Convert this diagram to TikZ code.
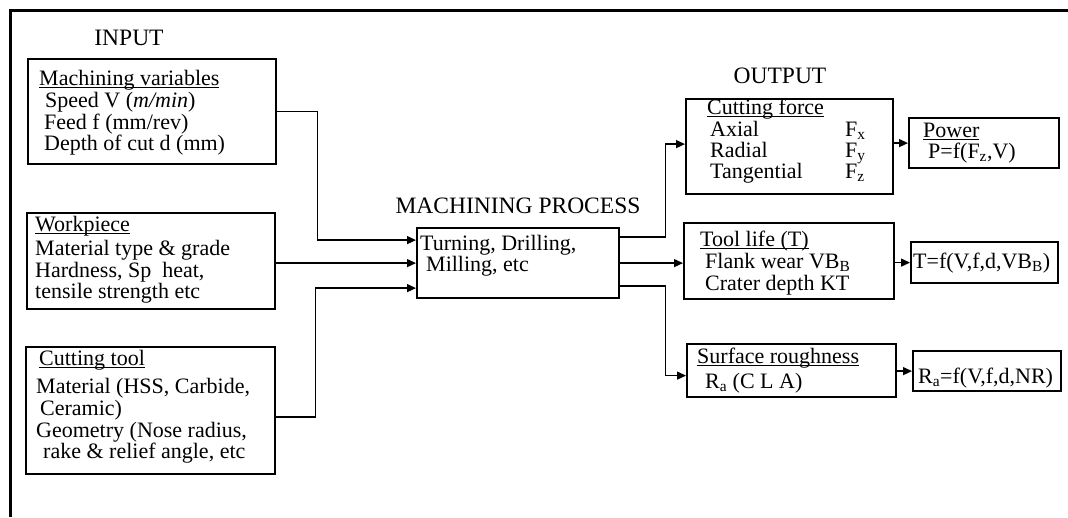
\documentclass[tikz,border=0pt]{standalone}
\usepackage{fontspec}
\setmainfont{Liberation Serif}
\usetikzlibrary{arrows.meta}
\newcommand{\myul}[1]{\setbox0\hbox{#1}\rlap{\rule[-3pt]{\wd0}{1.1pt}}\box0}
\begin{document}
\begin{tikzpicture}[x=1pt,y=-1pt,
  box/.style={draw,line width=2.2pt,anchor=north west,inner sep=0pt},
  txt/.style={anchor=base west,inner sep=0pt,font=\fontsize{22}{24}\selectfont},
  ttl/.style={anchor=base,inner sep=0pt,font=\fontsize{23.5}{26}\selectfont},
  conn/.style={line width=1.3pt},
  arr/.style={conn,-{Triangle[length=9pt,width=8pt]}},
  frame/.style={line width=3pt}
]
\useasboundingbox (0,0) rectangle (1068,517);
\draw[frame] (1068,10) -- (10,10) -- (10,517);

% titles
\node[ttl] (tin) at (129,45) {INPUT};
\node[ttl] (tproc) at (518,213) {MACHINING PROCESS};
\node[ttl] (tout) at (780,83) {OUTPUT};

% input boxes
\node[box,minimum width=248pt,minimum height=105pt] (mv) at (27,58) {};
\node[txt] (mv1) at (39,85) {\myul{Machining variables}};
\node[txt] (mv2) at (45,107) {Speed V (\textit{m/min})};
\node[txt] (mv3) at (44,129) {Feed f (mm/rev)};
\node[txt] (mv4) at (44,150) {Depth of cut d (mm)};

\node[box,minimum width=248pt,minimum height=96pt] (wp) at (26,212) {};
\node[txt] (wp1) at (35,231) {\myul{Workpiece}};
\node[txt] (wp2) at (35,255) {Material type \& grade};
\node[txt] (wp3) at (35,277) {Hardness, Sp\ \ heat,};
\node[txt] (wp4) at (35,298) {tensile strength etc};

\node[box,minimum width=249pt,minimum height=127pt] (ct) at (25,346) {};
\node[txt] (ct1) at (39,365) {\myul{Cutting tool}};
\node[txt] (ct2) at (36,393) {Material (HSS, Carbide,};
\node[txt] (ct3) at (40,415) {Ceramic)};
\node[txt] (ct4) at (36,437) {Geometry (Nose radius,};
\node[txt] (ct5) at (43,458) {rake \& relief angle, etc};

% process
\node[box,minimum width=202pt,minimum height=70pt] (proc) at (416,227) {};
\node[txt] (pr1) at (420,250) {Turning, Drilling,};
\node[txt] (pr2) at (426,271) {Milling, etc};

% output boxes
\node[box,minimum width=207pt,minimum height=95pt] (cf) at (685,98) {};
\node[txt] (cf1) at (707,114) {\myul{Cutting force}};
\node[txt] (cf2) at (710,136) {Axial};
\node[txt] (cf3) at (710,157) {Radial};
\node[txt] (cf4) at (710,178) {Tangential};
\node[txt] (cf5) at (845,136) {F\textsubscript{x}};
\node[txt] (cf6) at (845,157) {F\textsubscript{y}};
\node[txt] (cf7) at (845,178) {F\textsubscript{z}};

\node[box,minimum width=150pt,minimum height=50pt] (pw) at (908,117) {};
\node[txt] (pw1) at (923,137) {\myul{Power}};
\node[txt] (pw2) at (928,158) {P=f(F\textsubscript{z},V)};

\node[box,minimum width=210pt,minimum height=76pt] (tl) at (683,222) {};
\node[txt] (tl1) at (700,246) {\myul{Tool life (T)}};
\node[txt] (tl2) at (705,268) {Flank wear VB\textsubscript{B}};
\node[txt] (tl3) at (705,290) {Crater depth KT};

\node[box,minimum width=147pt,minimum height=41pt] (tf) at (910,241) {};
\node[txt] (tf1) at (913,268) {T=f(V,f,d,VB\textsubscript{B})};

\node[box,minimum width=209pt,minimum height=53pt] (sr) at (686,343) {};
\node[txt] (sr1) at (697,363) {\myul{Surface roughness}};
\node[txt] (sr2) at (705,388) {R\textsubscript{a} (C L A)};

\node[box,minimum width=148pt,minimum height=40pt] (rf) at (912,350) {};
\node[txt] (rf1) at (918,383) {R\textsubscript{a}=f(V,f,d,NR)};

% input connectors
\draw[arr] (mv.east) -- ++(40,0) |- ([yshift=23pt]proc.west);
\draw[arr] (wp.east |- proc.west) -- (proc.west);
\draw[arr] ([yshift=-6.5pt]ct.east) -- ++(39,0) |- ([yshift=-25pt]proc.west);

% output connectors
\draw[arr] ([yshift=26pt]proc.east) -- ++(45,0) |- ([yshift=2.5pt]cf.west);
\draw[arr] (proc.east) -- (tl.west |- proc.east);
\draw[arr] ([yshift=-23pt]proc.east) -- ++(45,0) |- ([yshift=-5pt]sr.west);

\draw[arr] (cf.east |- pw.west) -- (pw.west);
\draw[arr] (tl.east |- tf.west) -- (tf.west);
\draw[arr] (sr.east |- rf.west) -- (rf.west);
\end{tikzpicture}
\end{document}
